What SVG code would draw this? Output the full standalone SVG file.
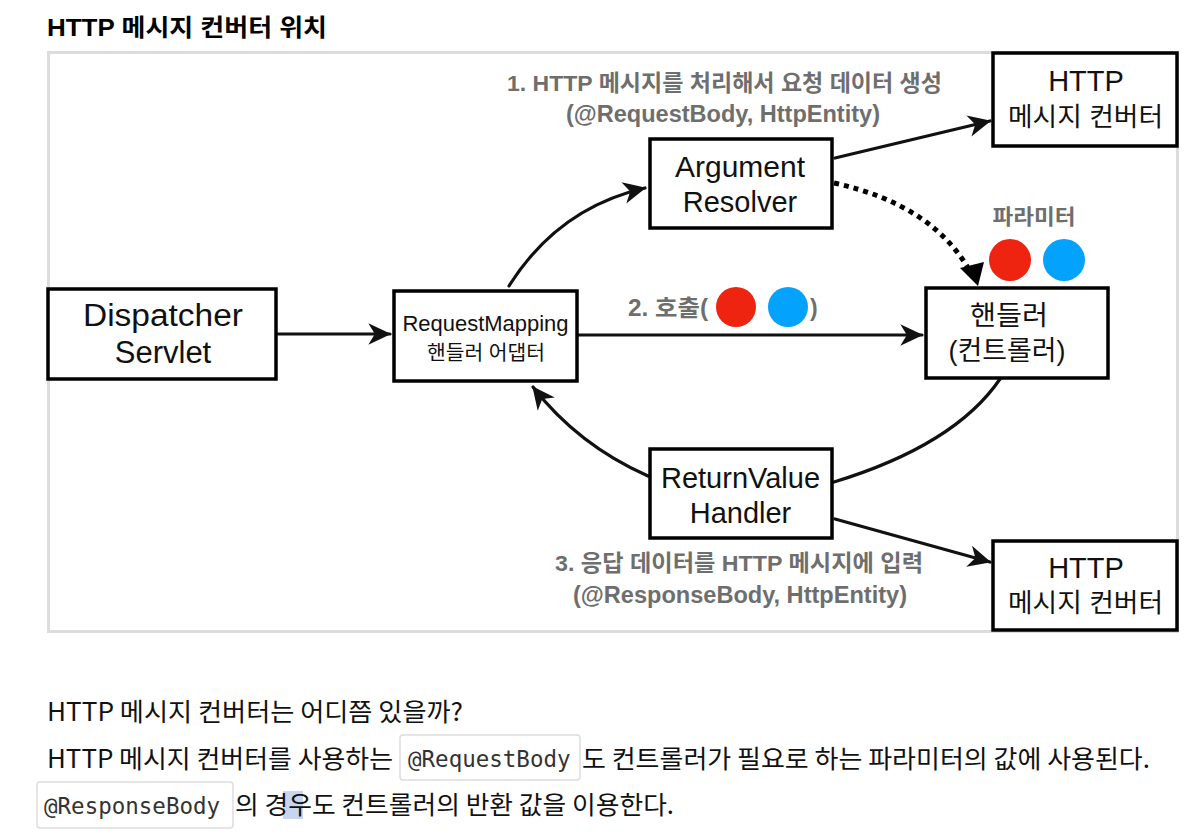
<svg xmlns="http://www.w3.org/2000/svg" width="1185" height="835" viewBox="0 0 1185 835">
<defs>
<style>
.box{fill:#fff;stroke:#000;stroke-width:3.5}
.lbl{font-family:"Liberation Sans","Noto Sans CJK KR",sans-serif;fill:#111;text-anchor:middle}
.gray{font-family:"Liberation Sans","Noto Sans CJK KR",sans-serif;fill:#6e6e6e;font-weight:bold;text-anchor:middle}
.edge{fill:none;stroke:#111;stroke-width:3.2;stroke-linecap:round}
.dot{fill:none;stroke:#000;stroke-width:5;stroke-dasharray:5 5}
.body{font-family:"Noto Sans CJK KR","Noto Sans",sans-serif;font-size:25px;fill:#111}
.code{font-family:"DejaVu Sans Mono","Liberation Mono",monospace;font-size:22.5px;fill:#333}
.codebox{fill:#fff;stroke:#ddd;stroke-width:1.5}
</style>
<marker id="arr" markerUnits="userSpaceOnUse" markerWidth="26" markerHeight="26" viewBox="0 0 24 24" refX="22" refY="12" orient="auto">
<path d="M2,2 L23,12 L2,22 L8,12 z" fill="#111"/>
</marker>
</defs>
<rect width="1185" height="835" fill="#fff"/>
<text x="47" y="36" textLength="280" lengthAdjust="spacingAndGlyphs" style="font-family:'Liberation Sans','Noto Sans CJK KR',sans-serif;font-weight:bold;font-size:24px;fill:#000">HTTP 메시지 컨버터 위치</text>
<rect x="48.5" y="52.5" width="1129" height="579" fill="#fff" stroke="#dcdcdc" stroke-width="3"/>

<g id="connectors">
<path class="edge" d="M278,334 L390,334" marker-end="url(#arr)"/>
<path class="edge" d="M578,335 L922,335" marker-end="url(#arr)"/>
<path class="edge" d="M509,286 Q558,208 645,188" marker-end="url(#arr)"/>
<path class="edge" d="M835,158 L990,121" marker-end="url(#arr)"/>
<path class="dot" d="M834,183 Q935,205 972,275"/>
<path d="M960,268 L978,286 L984,262 z" fill="#000"/>
<path class="edge" d="M834,482 Q955,445 1000,379"/>
<path class="edge" d="M648,476 Q578,445 533,387" marker-end="url(#arr)"/>
<path class="edge" d="M835,519 L990,562" marker-end="url(#arr)"/>
</g>

<g id="dispatcher">
<rect class="box" x="48" y="289" width="228" height="90"/>
<text class="lbl" x="163" y="326" font-size="31" textLength="160" lengthAdjust="spacingAndGlyphs">Dispatcher</text>
<text class="lbl" x="163" y="363" font-size="31">Servlet</text>
</g>
<g id="requestmapping">
<rect class="box" x="394" y="291" width="183" height="90"/>
<text class="lbl" x="485.5" y="331" font-size="21.5" textLength="166" lengthAdjust="spacingAndGlyphs">RequestMapping</text>
<text class="lbl" x="486" y="360" font-size="20" textLength="118" lengthAdjust="spacingAndGlyphs">핸들러 어댑터</text>
</g>
<g id="argresolver">
<rect class="box" x="650" y="139" width="182" height="89"/>
<text class="lbl" x="740" y="177" font-size="29" textLength="130" lengthAdjust="spacingAndGlyphs">Argument</text>
<text class="lbl" x="740" y="212" font-size="29">Resolver</text>
</g>
<g id="handler">
<rect class="box" x="926" y="288" width="182" height="90"/>
<text class="lbl" x="1009" y="325" font-size="27" textLength="78" lengthAdjust="spacingAndGlyphs">핸들러</text>
<text class="lbl" x="1007" y="360" font-size="27" textLength="117" lengthAdjust="spacingAndGlyphs">(컨트롤러)</text>
</g>
<g id="returnvalue">
<rect class="box" x="650" y="449" width="182" height="89"/>
<text class="lbl" x="740.5" y="488" font-size="29" textLength="159" lengthAdjust="spacingAndGlyphs">ReturnValue</text>
<text class="lbl" x="740.5" y="523" font-size="29">Handler</text>
</g>
<g id="converter1">
<rect class="box" x="993" y="53" width="184" height="93"/>
<text class="lbl" x="1086" y="91" font-size="29">HTTP</text>
<text class="lbl" x="1085.5" y="126" font-size="26" textLength="155" lengthAdjust="spacingAndGlyphs">메시지 컨버터</text>
</g>
<g id="converter2">
<rect class="box" x="993" y="541" width="184" height="89"/>
<text class="lbl" x="1086" y="578" font-size="29">HTTP</text>
<text class="lbl" x="1085.5" y="612" font-size="26" textLength="155" lengthAdjust="spacingAndGlyphs">메시지 컨버터</text>
</g>

<g id="labels">
<text class="gray" x="724.5" y="91" font-size="22.5" textLength="435" lengthAdjust="spacingAndGlyphs">1. HTTP 메시지를 처리해서 요청 데이터 생성</text>
<text class="gray" x="723" y="122" font-size="23" textLength="314" lengthAdjust="spacingAndGlyphs">(@RequestBody, HttpEntity)</text>
<text class="gray" x="1034" y="224" font-size="21" textLength="83" lengthAdjust="spacingAndGlyphs">파라미터</text>
<circle cx="1010" cy="260" r="21" fill="#ee2310"/>
<circle cx="1064" cy="260" r="21" fill="#03a2fc"/>
<text class="gray" x="628" y="316" font-size="23" textLength="80" lengthAdjust="spacingAndGlyphs" style="text-anchor:start">2. 호출(</text>
<circle cx="736" cy="307" r="20" fill="#ee2310"/>
<circle cx="788" cy="307" r="20" fill="#03a2fc"/>
<text class="gray" x="810" y="316" font-size="23" style="text-anchor:start">)</text>
<text class="gray" x="739" y="571" font-size="22.5" textLength="368" lengthAdjust="spacingAndGlyphs">3. 응답 데이터를 HTTP 메시지에 입력</text>
<text class="gray" x="740" y="603" font-size="23" textLength="334" lengthAdjust="spacingAndGlyphs">(@ResponseBody, HttpEntity)</text>
</g>

<g id="bodytext">
<text class="body" x="47" y="721" textLength="416" lengthAdjust="spacingAndGlyphs">HTTP 메시지 컨버터는 어디쯤 있을까?</text>
<text class="body" x="47" y="768" textLength="346" lengthAdjust="spacingAndGlyphs">HTTP 메시지 컨버터를 사용하는</text>
<rect class="codebox" x="400" y="735" width="180" height="45" rx="3"/>
<text class="code" x="408" y="767">@RequestBody</text>
<text class="body" x="582" y="768" textLength="568" lengthAdjust="spacingAndGlyphs">도 컨트롤러가 필요로 하는 파라미터의 값에 사용된다.</text>
<rect class="codebox" x="37" y="782" width="196" height="46" rx="3"/>
<text class="code" x="44" y="814">@ResponseBody</text>
<rect x="283" y="791" width="20" height="28" fill="#c8d5ef"/>
<text class="body" x="235" y="814" textLength="439" lengthAdjust="spacingAndGlyphs">의 경우도 컨트롤러의 반환 값을 이용한다.</text>
</g>
</svg>
